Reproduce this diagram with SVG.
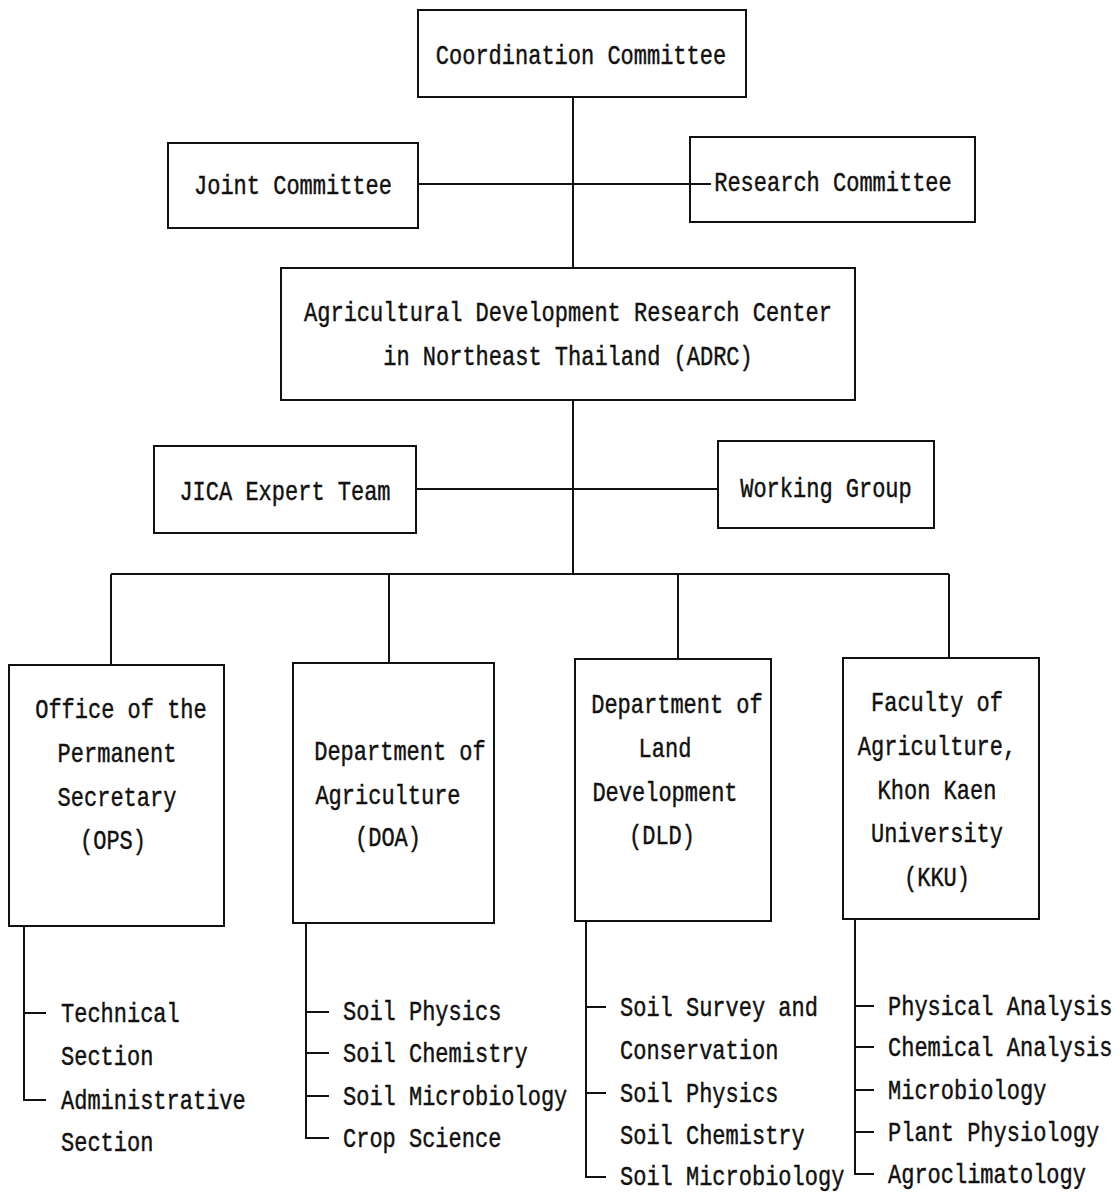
<svg xmlns="http://www.w3.org/2000/svg" width="1120" height="1193" viewBox="0 0 1120 1193">
<style>
  .box{fill:none;stroke:#111;stroke-width:2}
  .ln{fill:none;stroke:#111;stroke-width:2}
  text{font-family:"Liberation Mono","DejaVu Sans Mono",monospace;font-size:22px;fill:#111;stroke:#111;stroke-width:0.35;transform-box:fill-box;transform-origin:center;transform:scaleY(1.25)}
  .c{text-anchor:middle}
</style>
<rect width="1120" height="1193" fill="#fff"/>
<g id="connectors">
  <path class="ln" d="M573 97V268M418 184H711M573 400V574M416 489H718M111 574H949M111 574V665M389 574V663M678 574V659M949 574V658"/>
  <path class="ln" d="M24 926V1100H46M24 1013H46"/>
  <path class="ln" d="M306 923V1138H329M306 1012H329M306 1053H329M306 1096H329"/>
  <path class="ln" d="M586 921V1177H606M586 1007H606M586 1093H606"/>
  <path class="ln" d="M855 919V1174H874M855 1006H874M855 1047H874M855 1090H874M855 1132H874"/>
</g>
<g id="coordination"><rect class="box" x="418" y="10" width="328" height="87"/><text class="c" x="581" y="62">Coordination Committee</text></g>
<g id="joint"><rect class="box" x="168" y="143" width="250" height="85"/><text class="c" x="293" y="192">Joint Committee</text></g>
<g id="research"><rect class="box" x="690" y="137" width="285" height="85"/><text class="c" x="833" y="189">Research Committee</text></g>
<g id="adrc"><rect class="box" x="281" y="268" width="574" height="132"/><text class="c" x="568" y="319">Agricultural Development Research Center</text><text class="c" x="568" y="363">in Northeast Thailand (ADRC)</text></g>
<g id="jica"><rect class="box" x="154" y="446" width="262" height="87"/><text class="c" x="285" y="498">JICA Expert Team</text></g>
<g id="working"><rect class="box" x="718" y="441" width="216" height="87"/><text class="c" x="826" y="495">Working Group</text></g>
<g id="ops"><rect class="box" x="9" y="665" width="215" height="261"/>
  <text class="c" x="121" y="716">Office of the</text><text class="c" x="117" y="760">Permanent</text><text class="c" x="117" y="804">Secretary</text><text class="c" x="113" y="847">(OPS)</text></g>
<g id="doa"><rect class="box" x="293" y="663" width="201" height="260"/>
  <text class="c" x="400" y="758">Department of</text><text class="c" x="388" y="802">Agriculture</text><text class="c" x="388" y="844">(DOA)</text></g>
<g id="dld"><rect class="box" x="575" y="659" width="196" height="262"/>
  <text class="c" x="677" y="711">Department of</text><text class="c" x="665" y="755">Land</text><text class="c" x="665" y="799">Development</text><text class="c" x="662" y="842">(DLD)</text></g>
<g id="kku"><rect class="box" x="843" y="658" width="196" height="261"/>
  <text class="c" x="937" y="709">Faculty of</text><text class="c" x="937" y="753">Agriculture,</text><text class="c" x="937" y="797">Khon Kaen</text><text class="c" x="937" y="840">University</text><text class="c" x="937" y="884">(KKU)</text></g>
<g id="ops-sections">
  <text x="61" y="1020">Technical</text><text x="61" y="1063">Section</text><text x="61" y="1107">Administrative</text><text x="61" y="1149">Section</text></g>
<g id="doa-sections">
  <text x="343" y="1018">Soil Physics</text><text x="343" y="1060">Soil Chemistry</text><text x="343" y="1103">Soil Microbiology</text><text x="343" y="1145">Crop Science</text></g>
<g id="dld-sections">
  <text x="620" y="1014">Soil Survey and</text><text x="620" y="1057">Conservation</text><text x="620" y="1100">Soil Physics</text><text x="620" y="1142">Soil Chemistry</text><text x="620" y="1183">Soil Microbiology</text></g>
<g id="kku-sections">
  <text x="888" y="1013">Physical Analysis</text><text x="888" y="1054">Chemical Analysis</text><text x="888" y="1097">Microbiology</text><text x="888" y="1139">Plant Physiology</text><text x="888" y="1181">Agroclimatology</text></g>
</svg>
